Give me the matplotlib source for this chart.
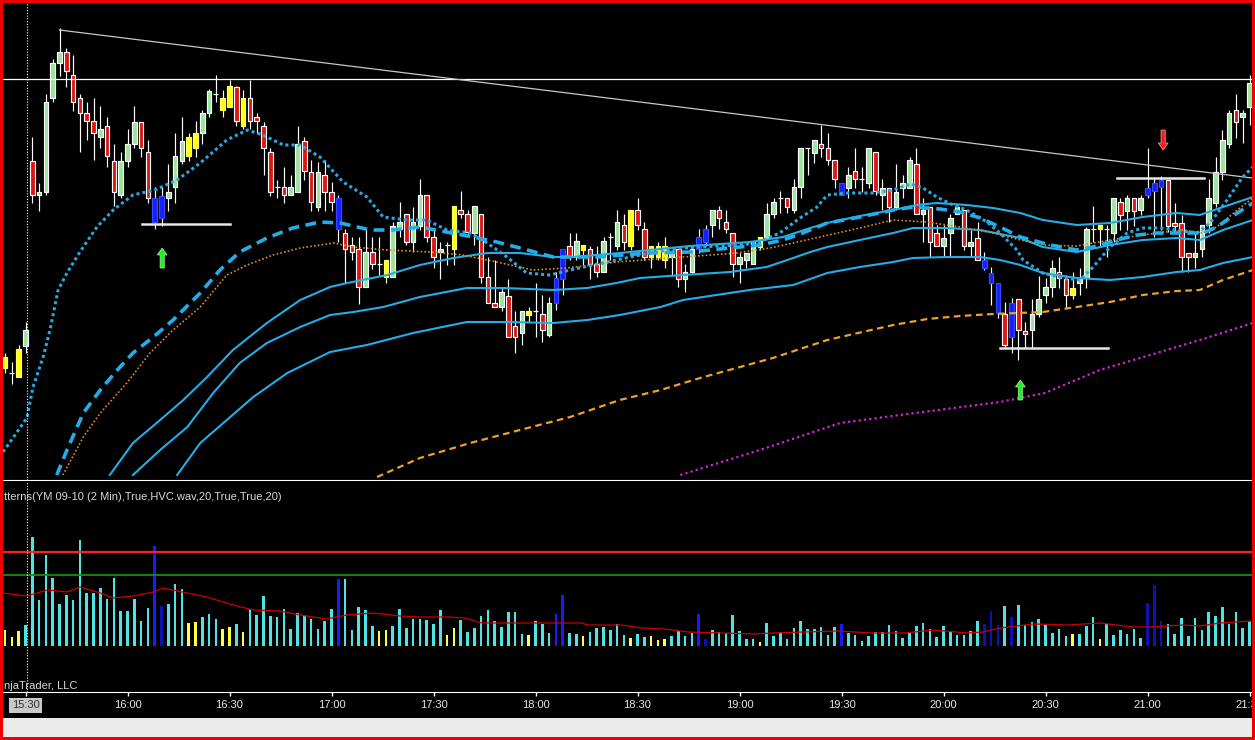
import matplotlib
matplotlib.use("Agg")
import matplotlib.pyplot as plt
from matplotlib.patches import Rectangle, FancyArrowPatch

plt.rcParams['font.family'] = ['Liberation Sans', 'DejaVu Sans']

# ---------------- data (price in points above panel floor, 2-min bars) ----------------
bar_start = -3   # bar 0 = 15:30
opens = [112,107,103,134,319,285,288,382,417,428,
         405,382,367,359,343,354,319,285,319,336,
         358,328,282,284,282,293,319,324,332,347,
         367,386,370,373,393,354,382,363,354,328,
         293,293,285,288,339,308,273,305,288,282,
         247,235,231,193,228,216,203,203,251,266,
         238,254,285,243,228,235,231,270,266,247,
         266,203,177,173,184,154,147,165,169,166,
         145,177,201,234,223,230,231,216,208,243,
         234,255,234,270,251,223,223,220,223,231,
         201,208,231,238,255,270,258,247,216,220,
         216,233,242,266,282,282,270,293,332,327,
         336,332,320,297,292,309,301,297,328,285,
         292,273,292,292,316,266,273,247,234,247,
         266,270,234,242,220,207,197,166,177,181,
         149,150,166,185,193,208,201,185,197,202,
         251,251,251,247,278,269,282,270,285,289,
         293,300,257,257,227,223,231,255,277,308,
         336,370,363,373]
highs = [127,118,135,158,343,297,386,421,452,432,
         425,386,378,382,374,363,336,328,351,374,
         358,340,293,293,316,347,363,347,359,370,
         391,405,390,400,394,390,400,367,358,332,
         300,313,305,354,343,320,318,320,298,285,
         251,243,243,251,243,243,220,258,278,266,
         273,301,285,250,238,238,274,289,270,274,
         266,223,220,193,201,169,169,173,197,185,
         183,208,231,247,247,235,234,234,243,247,
         270,266,270,282,258,234,238,243,230,231,
         216,231,251,255,270,274,270,247,227,227,
         238,243,277,282,289,282,301,332,332,340,
         355,347,320,297,313,332,313,332,328,301,
         292,316,305,323,332,282,273,255,255,266,
         273,270,250,258,228,213,197,178,182,181,
         158,181,204,202,220,223,205,208,212,253,
         274,255,255,282,282,285,282,285,332,302,
         304,300,277,265,227,247,255,301,323,350,
         370,386,370,405]
lows = [107,96,103,127,277,269,285,378,404,393,
        369,328,340,320,332,313,274,282,313,332,
        323,277,251,254,269,277,316,319,323,336,
        363,378,363,373,354,351,351,347,305,284,
        282,277,285,288,300,269,269,269,269,238,
        197,220,176,193,211,205,197,203,243,235,
        228,250,238,212,201,215,215,262,243,235,
        197,177,173,169,143,127,135,158,143,138,
        143,170,185,220,220,215,201,203,208,220,
        230,230,230,250,220,212,220,212,204,193,
        188,208,227,234,243,251,247,203,197,212,
        216,230,242,262,267,267,267,282,305,317,
        323,315,292,285,282,292,288,292,285,270,
        258,270,282,292,266,238,223,234,223,223,
        266,230,223,220,210,175,162,132,127,120,
        132,132,163,177,183,192,172,181,185,192,
        238,234,223,238,250,250,254,265,282,243,
        250,248,247,208,208,212,223,247,273,300,
        332,342,337,355]
closes = [123,107,131,150,285,288,378,417,428,409,
          378,367,359,347,351,324,288,319,336,358,
          332,282,258,262,288,324,339,343,347,367,
          389,386,382,394,359,382,359,359,332,288,
          293,285,293,336,309,278,308,288,278,251,
          231,228,193,228,216,216,220,254,258,238,
          258,285,243,223,231,235,274,266,248,274,
          203,177,173,188,143,143,169,169,169,150,
          177,202,231,223,239,235,216,208,239,243,
          258,238,270,255,223,234,234,234,228,201,
          208,231,243,251,270,262,251,216,223,227,
          238,243,266,278,282,273,293,332,332,340,
          332,320,301,285,305,301,301,332,289,292,
          273,288,297,320,266,270,238,234,242,262,
          273,234,238,220,212,197,167,135,143,150,
          146,166,181,193,212,202,185,192,202,251,
          251,255,251,282,265,282,269,282,292,297,
          300,254,254,223,223,227,255,282,308,340,
          367,358,367,397]
# g = up (green), r = down (red), y = yellow pattern bar, b = blue pattern bar, d = doji
candle_kind = ("ydygrggggr" "rrrrgrrggg" "rrbbgggyyg" "gdyyryrrrr" "drggrrgrrb"
               "rrrgrdyggr" "ggrrgdyrrg" "rrrgrrgydr" "gbbrgyrrgd" "gryrryyygr"
               "ggbbgrrrgg" "gyggdrggdg" "rrrbgrdgrg" "rgggrgrrgg" "grgrbbbrbr"
               "rggggrrygg" "dydgrgrgbb" "brrrrggggg" "grgg")

volume = [164,90,150,210,1090,460,910,680,420,510,
          460,1060,530,530,580,470,680,350,350,470,
          250,380,1000,400,420,620,570,230,240,290,
          320,270,170,190,220,140,370,310,500,300,
          290,370,170,330,310,270,170,250,370,670,
          670,160,390,360,200,150,160,200,370,180,
          270,270,260,220,360,110,180,260,140,180,
          300,360,250,190,340,340,120,110,250,220,
          130,320,510,130,120,100,140,180,190,160,
          220,110,80,120,90,100,60,70,100,150,
          100,130,320,70,160,140,130,310,150,70,
          70,40,230,100,140,70,180,250,170,170,
          190,110,190,220,130,110,50,100,140,140,
          210,150,80,130,197,230,173,90,197,147,
          107,107,147,247,217,350,213,397,290,407,
          213,237,267,207,130,173,97,117,117,197,
          287,73,223,107,157,117,173,80,430,607,
          250,217,117,277,97,277,157,337,297,387,
          223,337,177,247]
# c = normal, y = low, b = high (blue), n = high (dark blue)
volume_kind = ("yyyccccccc" "cccccccccc" "ccbncccyyc" "ccyycycccc" "cccccccccb"
               "cccccyyccc" "cccccyyccc" "cccccccycc" "cbbccycccc" "ccyccyyycc"
               "ccbncccccc" "cycccccccc" "cccbcccccc" "cccccccccc" "ccccnnncnc"
               "cccccccycc" "cyccccccnn" "nccccccccc" "cccc")

vol_ma_bar = [-3.3,0.2,3.2,6.1,8.0,11.0,12.9,15.8,18.8,20.2,23.8,26.7,30.5,33.5,37.4,40.4,
              44.3,47.3,51.1,55.1,58.0,62.1,64.6,67.1,72.0,76.8,81.8,82.7,87.7,90.7,94.0,
              97.4,102.4,107.3,109.8,114.6,119.5,124.5,129.3,133.5,138.5,140.8,143.3,
              148.2,153.2,158.0,162.9,165.4,170.2,172.7,175.7,180.4]
vol_ma_val = [530,500,560,540,590,530,480,500,540,580,530,490,410,360,350,310,
              270,310,330,300,290,290,280,230,230,230,230,210,210,180,170,
              140,130,120,130,140,150,130,130,160,130,140,180,
              220,210,230,190,190,210,200,230,250]
vol_red_level = 940
vol_green_level = 710

fast_ma_bar = [-3.3,0.2,1.1,2.6,3.6,4.8,6.1,8.0,10.5,12.9,15.8,19.0,22.3,25.7,29.6,32.6,34.9,
               37.9,40.4,43.3,46.7,50.2,52.6,56.1,59.0,62.0,65.4,67.9,70.8,73.7,77.1,80.1,
               86.9,91.8,96.7,104.6,107.6,110.9,113.9,116.4,117.9,120.8,124.6,127.6,130.1,
               132.0,134.0,136.4,138.4,141.4,143.3,145.8,146.7,149.6,152.6,155.1,157.0,
               159.5,162.0,164.3,166.8,169.3,172.3,174.2,176.7,179.0,180.5]
fast_ma_val = [28,62,93,123,150,190,207,228,253,270,285,290,300,317,340,350,345,
               335,335,323,298,283,263,260,260,250,247,237,223,207,205,210,
               220,227,232,235,237,247,262,273,285,287,287,290,296,
               292,283,275,270,258,247,230,220,207,202,200,213,
               233,247,252,252,250,247,257,280,303,313]

dash_ma_bar = [4.6,6.1,8.5,11.0,13.5,15.8,18.8,21.7,25.7,28.6,31.5,35.5,39.3,43.3,46.3,50.7,
               54.0,58.0,61.9,65.8,69.3,72.7,77.6,79.6,84.0,91.8,97.7,103.6,108.0,111.4,
               114.3,117.9,122.7,127.6,130.5,134.5,137.4,140.4,143.3,146.3,150.7,154.6,
               157.0,160.5,163.5,166.4,173.2,175.2,178.2,180.5]
dash_ma_val = [5,30,67,90,110,127,143,160,187,210,228,242,252,258,257,250,
               250,253,248,243,238,232,223,223,223,227,228,232,235,240,
               247,257,263,270,273,271,268,262,253,243,235,230,
               233,240,245,247,247,253,267,277]

orange_dot_bar = [5.5,8.5,11.0,14.9,18.3,21.7,25.7,29.6,32.6,36.4,40.4,45.3,48.2,53.2,59.5,
                  64.3,69.3,74.6,79.6,86.9,96.7,104.6,109.5,112.9,118.1,122.7,127.6,132.6,
                  137.4,142.3,146.3,149.6,154.6,159.5,164.3,170.2,173.2,175.2,178.2,180.5]
orange_dot_val = [5,43,67,97,127,150,173,205,215,225,232,237,233,230,228,
                  225,218,210,212,218,223,227,232,237,245,252,260,258,
                  253,247,240,235,234,240,245,250,247,253,270,282]

band_up_bar = [12.4,15.8,19.8,23.2,26.7,30.5,35.5,40.4,44.8,47.3,53.2,58.0,62.9,67.9,72.7,
               77.6,80.5,87.4,91.8,97.7,106.5,111.4,115.4,117.9,122.7,127.6,131.1,134.0,
               138.4,142.3,146.3,149.6,154.6,159.5,164.3,169.3,172.7,176.1,180.5]
band_up_val = [5,37,60,80,103,130,157,180,193,197,205,215,222,227,227,
               223,223,227,230,234,238,243,252,257,264,270,275,277,
               275,272,267,260,255,257,263,267,265,273,283]

band_mid_bar = [15.8,19.8,23.8,27.6,31.5,35.5,40.4,44.8,48.2,52.6,58.0,64.9,70.3,77.6,82.6,
                86.9,90.4,96.7,103.6,109.0,112.9,115.4,117.9,122.7,127.6,130.5,135.5,140.4,
                146.3,149.6,154.6,159.5,164.3,169.3,172.7,176.1,180.5]
band_mid_val = [5,30,53,87,117,137,153,165,168,173,183,192,192,190,192,
                197,202,205,208,213,222,228,233,240,247,252,252,250,
                242,233,228,235,240,242,240,250,260]

band_low_bar = [22.3,25.7,29.6,33.5,38.5,44.8,50.2,57.0,64.9,70.8,77.6,82.6,87.4,93.4,96.7,
                106.5,112.9,117.9,122.7,127.6,130.5,135.5,140.4,143.3,146.3,149.6,154.6,
                159.5,164.3,169.3,172.7,176.1,180.5]
band_low_val = [5,37,60,83,107,128,135,147,158,158,157,160,165,173,180,
                190,195,207,213,218,222,223,223,220,215,207,202,
                200,203,208,210,217,223]

slow_ma_bar = [51.7,58.0,65.4,72.7,80.1,87.4,93.4,99.2,109.9,117.9,127.6,132.6,137.4,142.3,
               149.6,154.6,159.5,164.3,169.3,172.7,176.1,180.5]
slow_ma_val = [3,22,37,50,63,80,90,102,122,140,155,161,164,166,
               168,173,178,185,189,190,200,210]

magenta_bar = [96.3,108.0,119.8,128.6,143.3,149.9,158.0,165.4,172.7,180.5]
magenta_val = [5,30,57,65,78,87,110,125,140,157]

resistance_level = 401
trend_bar = [5.0, 180.4]
trend_val = [450, 302]
support_segments = [(17.1, 30.1, 256), (143.3, 159.2, 132), (160.5, 173.3, 302)]
up_arrows = [(20.1, 212, 232), (146.3, 80, 100)]
down_arrows = [(167.3, 350, 330)]

tick_bars = [0, 15, 30, 45, 60, 75, 90, 105, 120, 135, 150, 165, 180]
tick_labels = ["15:30", "16:00", "16:30", "17:00", "17:30", "18:00", "18:30",
               "19:00", "19:30", "20:00", "20:30", "21:00", "21:30"]
session_bar = 0.22
header_text = "tterns(YM 09-10 (2 Min),True,HVC.wav,20,True,True,20)"
footer_text = "njaTrader, LLC"

# ---------------- layout ----------------
W, H = 1255, 740
fig = plt.figure(figsize=(W / 100, H / 100), dpi=100, facecolor='black')

def fx(px):
    return px / W

def fy(py):
    return 1 - py / H

PX0, PXS = 25.5, 6.8
x_lo = (3 - PX0) / PXS
x_hi = (1252 - PX0) / PXS

ax1 = fig.add_axes([fx(3), fy(480), 1249 / W, 477 / H], facecolor='black')
ax2 = fig.add_axes([fx(3), fy(692), 1249 / W, 211 / H], facecolor='black')
for ax in (ax1, ax2):
    ax.set_xlim(x_lo, x_hi)
    for s in ax.spines.values():
        s.set_visible(False)
    ax.tick_params(left=False, labelleft=False)
ax1.set_ylim(0, 477)
ax2.set_ylim(-460, 1650)
ax1.tick_params(bottom=False, labelbottom=False)
for ax in (ax1, ax2):
    ax.spines['bottom'].set_visible(True)
    ax.spines['bottom'].set_color('white')

# ---------------- candles ----------------
xs = [bar_start + i for i in range(len(opens))]
cmap = {'g': '#9de29d', 'r': '#e01212', 'y': '#ffff10', 'b': '#1420ff'}
emap = {'g': 'white', 'r': 'white', 'y': '#ffff60', 'b': '#3848ff'}
ax1.vlines(xs, lows, highs, color='white', lw=0.85, zorder=2)
bx, bh, bb, bc, be, dx, dy = [], [], [], [], [], [], []
for x, o, c, k in zip(xs, opens, closes, candle_kind):
    if k == 'd' or o == c:
        dx.append(x)
        dy.append(o)
        continue
    lo, hi = min(o, c), max(o, c)
    bx.append(x); bh.append(hi - lo); bb.append(lo)
    bc.append(cmap[k]); be.append(emap[k])
ax1.bar(bx, bh, bottom=bb, width=0.68, color=bc, edgecolor=be, linewidth=0.85, zorder=2.5)
ax1.hlines(dy, [x - 0.36 for x in dx], [x + 0.36 for x in dx], color='white', lw=0.9, zorder=2.5)

# ---------------- indicator lines ----------------
cyan = '#22aee8'
ax1.plot(band_low_bar, band_low_val, color=cyan, lw=1.5, zorder=3)
ax1.plot(band_mid_bar, band_mid_val, color=cyan, lw=1.5, zorder=3)
ax1.plot(band_up_bar, band_up_val, color=cyan, lw=1.5, zorder=3)
ax1.plot(slow_ma_bar, slow_ma_val, color='#f0a028', lw=1.6, ls=(0, (3, 2)), zorder=3)
ax1.plot(magenta_bar, magenta_val, color='#d822d8', lw=1.6, ls=(0, (1, 1.4)), zorder=3)
ax1.plot(orange_dot_bar, orange_dot_val, color='#e08a2a', lw=1.2, ls=(0, (1, 1.3)), zorder=3)
ax1.plot(dash_ma_bar, dash_ma_val, color=cyan, lw=2.6, ls=(0, (3, 1.8)), zorder=3.2)
ax1.plot(fast_ma_bar, fast_ma_val, color='#2aa8e2', lw=2.2, ls=(0, (1, 1)), zorder=3.2)

ax1.axhline(resistance_level, color='white', lw=0.9, zorder=3)
ax1.plot(trend_bar, trend_val, color='#c8c8c8', lw=0.9, zorder=3)
for x0, x1, lvl in support_segments:
    ax1.plot([x0, x1], [lvl, lvl], color='#e6e6e6', lw=1.8, zorder=3.5)
arrow_style = 'simple,head_length=5,head_width=7,tail_width=3'
for x, tail, tip in up_arrows:
    ax1.add_patch(FancyArrowPatch((x, tail), (x, tip), arrowstyle=arrow_style,
                  mutation_scale=1, shrinkA=0, shrinkB=0,
                  facecolor='#22ee22', edgecolor='#a8f8a8', lw=0.5, zorder=4))
for x, tail, tip in down_arrows:
    ax1.add_patch(FancyArrowPatch((x, tail), (x, tip), arrowstyle=arrow_style,
                  mutation_scale=1, shrinkA=0, shrinkB=0,
                  facecolor='#ee1e1e', edgecolor='#ffa8a8', lw=0.5, zorder=4))

for ax in (ax1, ax2):
    ax.axvline(session_bar, color='white', lw=0.8, ls=(0, (1, 1.5)), zorder=5)

# ---------------- volume ----------------
vmap = {'c': '#4ce4e4', 'y': '#ffff3a', 'b': '#1a1aff', 'n': '#1010b8'}
ax2.bar(xs, volume, width=0.4, color=[vmap[k] for k in volume_kind], zorder=2)
ax2.plot(vol_ma_bar, vol_ma_val, color='#c80000', lw=0.9, zorder=3)
ax2.axhline(vol_red_level, color='#ff1e1e', lw=1.6, zorder=3)
ax2.axhline(vol_green_level, color='#109010', lw=1.3, zorder=3)

ax2.set_xticks(tick_bars)
ax2.set_xticklabels(tick_labels, fontsize=8, color='#e6e6e6')
ax2.tick_params(axis='x', colors='white', length=3, width=1, pad=3, labelcolor='#e6e6e6')
lab0 = ax2.get_xticklabels()[0]
lab0.set_color('#303030')
lab0.set_bbox(dict(facecolor='#c8c8c8', edgecolor='none', pad=1.8))

fig.text(fx(4), fy(497), header_text, ha='left', va='center', fontsize=8, color='#d8d8d8')
fig.text(fx(4), fy(686), footer_text, ha='left', va='center', fontsize=8, color='#d8d8d8')

# ---------------- frame ----------------
fig.patches.append(Rectangle((0, fy(737)), 1, (737 - 718) / H, transform=fig.transFigure,
                             facecolor='#ebebeb', edgecolor='none', zorder=9))
red = '#ee0000'
for rect in [(0, 0, 3 / W, 1), (1 - 3 / W, 0, 3 / W, 1), (0, 1 - 3 / H, 1, 3 / H), (0, 0, 1, 3 / H)]:
    fig.patches.append(Rectangle(rect[:2], rect[2], rect[3], transform=fig.transFigure,
                                 facecolor=red, edgecolor='none', zorder=10))

fig.savefig("out.png", dpi=100, facecolor='black')
